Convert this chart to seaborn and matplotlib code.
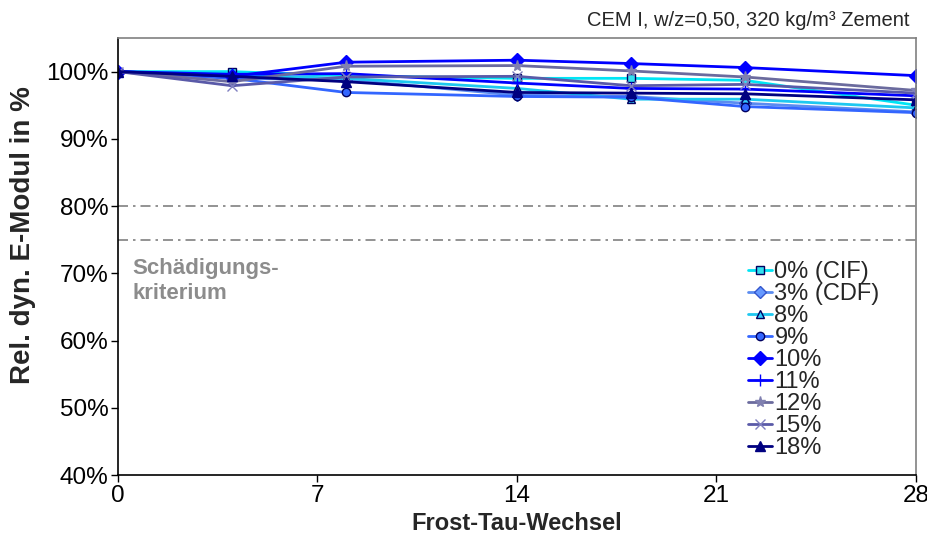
import matplotlib
matplotlib.use("Agg")
import matplotlib.pyplot as plt
import seaborn as sns
import pandas as pd
from matplotlib.ticker import FuncFormatter

sns.set_theme(style="white")
plt.rcParams['font.family'] = ['Liberation Sans', 'DejaVu Sans']

cycles = [0, 4, 8, 14, 18, 22, 28]
series_names = ["0% (CIF)", "3% (CDF)", "8%", "9%", "10%", "11%", "12%", "15%", "18%"]
v_0 = [100.0, 100.0, 99.4, 99.0, 99.0, 98.7, 95.0]
v_3 = [100.0, 99.0, 98.8, 96.5, 96.3, 95.3, 94.0]
v_8 = [100.0, 99.5, 99.0, 97.5, 95.9, 95.9, 94.6]
v_9 = [100.0, 99.0, 96.9, 96.3, 96.2, 94.8, 93.9]
v_10 = [100.0, 99.3, 101.4, 101.7, 101.2, 100.6, 99.4]
v_11 = [100.0, 99.6, 99.7, 98.3, 97.5, 97.4, 96.4]
v_12 = [100.0, 98.5, 100.8, 100.9, 100.1, 99.2, 97.2]
v_15 = [100.0, 97.9, 99.2, 99.3, 97.9, 98.1, 96.8]
v_18 = [100.0, 99.3, 98.5, 96.9, 96.8, 96.7, 95.8]
values = [v_0, v_3, v_8, v_9, v_10, v_11, v_12, v_15, v_18]

colors = ["#00E5F5", "#5B8CF0", "#1EC8F0", "#3366FF", "#0000FF", "#0000FF", "#6B6B9E", "#5A5AA8", "#000080"]
markers = ["s", "D", "^", "o", "D", "+", "*", "x", "^"]
facecolors = ["#33E0F0", "#6699FF", "#33CCFF", "#3366FF", "#0000FF", "#0000FF", "#8080B0", "#8080C0", "#000080"]
edgecolors = ["#000060", "#3355CC", "#000060", "#000060", "#0000FF", "#0000FF", "#8080B0", "#8080C0", "#000080"]
msizes = [6, 6, 6, 6, 7, 8, 8, 7, 7]

df = pd.DataFrame({
    "Zyklen": cycles * len(series_names),
    "Wert": [v for vals in values for v in vals],
    "Serie": [n for n in series_names for _ in cycles],
})

fig = plt.figure(figsize=(9.28, 5.44), dpi=100)
ax = fig.add_axes([118/928, 1-475/544, (916-118)/928, (475-38)/544])

for i, name in enumerate(series_names):
    sub = df[df["Serie"] == name]
    sns.lineplot(data=sub, x="Zyklen", y="Wert", ax=ax, color=colors[i],
                 linewidth=2, marker=markers[i], markersize=msizes[i],
                 markerfacecolor=facecolors[i], markeredgecolor=edgecolors[i],
                 markeredgewidth=1.0, label=name, linestyle="-")

# criterion lines
for yv in [80, 75]:
    ax.axhline(yv, color="#808080", linewidth=1.2, linestyle=(0, (6, 3, 1.5, 3)), zorder=0)

ax.text(0.5, 68.8, "Schädigungs-\nkriterium", color="#8C8C8C", fontsize=16,
        fontweight="bold", va="center", ha="left", linespacing=1.25)

ax.set_xlim(0, 28)
ax.set_ylim(40, 105)
ax.set_xticks([0, 7, 14, 21, 28])
ax.set_yticks([40, 50, 60, 70, 80, 90, 100])
ax.yaxis.set_major_formatter(FuncFormatter(lambda v, p: f"{int(v)}%"))
ax.tick_params(axis="both", labelsize=17.5, direction="out", length=5, width=1,
               colors="black", left=True, bottom=True, pad=2)
ax.set_xlabel("Frost-Tau-Wechsel", fontsize=17, fontweight="bold")
ax.set_ylabel("Rel. dyn. E-Modul in %", fontsize=20, fontweight="bold")
ax.xaxis.set_label_coords(0.5, -0.085)
ax.yaxis.set_label_coords(-0.103, 0.55)

for s in ["left", "bottom"]:
    ax.spines[s].set_color("black")
    ax.spines[s].set_linewidth(1.2)
for s in ["top", "right"]:
    ax.spines[s].set_color("#808080")
    ax.spines[s].set_linewidth(1.2)

leg = ax.legend(loc="upper left", bbox_to_anchor=(0.79, 0.49), frameon=False,
                fontsize=17, labelspacing=0.0, handlelength=1.0, handletextpad=0.1,
                borderaxespad=0, borderpad=0)
for line in leg.get_lines():
    line.set_linewidth(2)

fig.text(910/928, 1-21/544, "CEM I, w/z=0,50, 320 kg/m³ Zement", ha="right", va="center",
         fontsize=14.5)

fig.savefig("out.png", dpi=100)
